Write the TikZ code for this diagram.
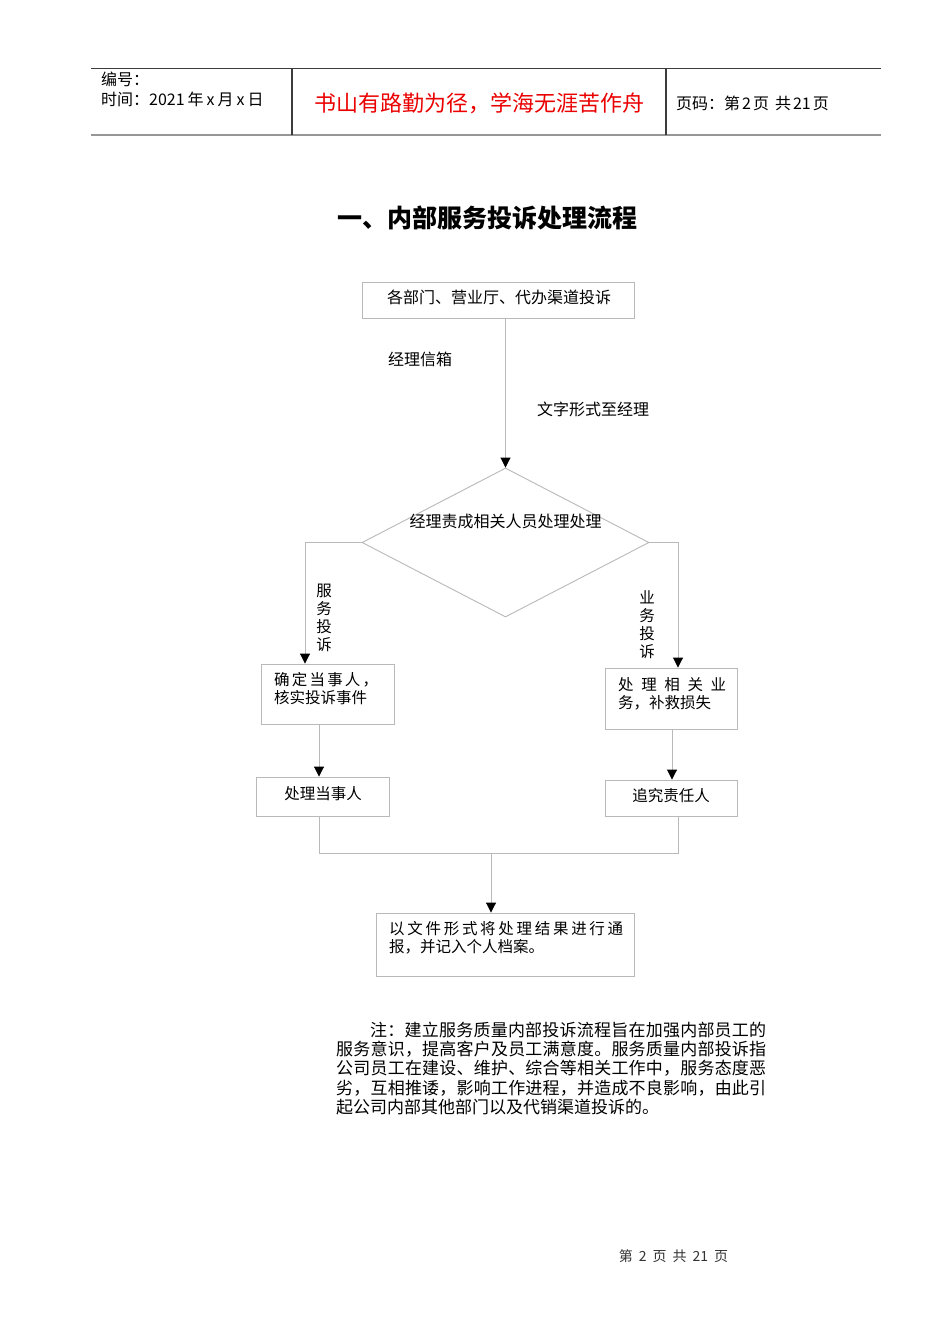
\documentclass[tikz,border=0pt]{standalone}
\usepackage{fontspec}
\setmainfont{Noto Sans CJK SC}
\usetikzlibrary{arrows.meta,shapes.geometric}
\makeatletter
\newcommand\spreadline[2]{\makebox[#1][s]{\@tfor\sp@x:=#2\do{\sp@x\hfil}\unskip}}
\makeatother
\definecolor{lgray}{RGB}{185,185,185}
\definecolor{hdrline}{RGB}{60,60,60}
\definecolor{hdrbot}{RGB}{150,150,150}
\definecolor{redtxt}{RGB}{235,0,0}
\tikzset{
  ln/.style={draw=lgray, line width=0.9pt},
  arr/.style={ln, -{Triangle[width=10pt,length=10pt,color=black,fill=black]}},
  fbox/.style={draw=lgray, line width=0.9pt, rectangle, inner sep=0pt},
  txt/.style={inner sep=0pt, font=\fontsize{15.5}{18}\selectfont},
  hdr/.style={inner sep=0pt, font=\fontsize{16}{19}\selectfont},
  note/.style={inner sep=0pt, anchor=west, font=\fontsize{17}{19}\selectfont},
  vlab/.style={inner sep=0pt, align=center, font=\fontsize{15.5}{18}\selectfont},
}
\begin{document}
\begin{tikzpicture}[x=1pt,y=-1pt]
\path[use as bounding box, fill=white] (0,0) rectangle (950,1344);

% header
\draw[draw=hdrline, line width=1pt] (91,68) coordinate (htl) -- (881,68) coordinate (htr);
\draw[draw=hdrbot, line width=2pt] (91,135) coordinate (hbl) -- (881,135) coordinate (hbr);
\draw[draw=hdrline, line width=1.1pt] (292,68) coordinate (v1t) -- (292,135) coordinate (v1b);
\draw[draw=hdrline, line width=1.1pt] (666,68) coordinate (v2t) -- (666,135) coordinate (v2b);
\node[hdr, anchor=west] (bh) at (101,79) {编号：};
\node[hdr, anchor=west] (sj) at (101,99) {时间：2021\hspace{3pt}年\hspace{3pt}x\hspace{3pt}月\hspace{3pt}x\hspace{3pt}日};
\node[inner sep=0pt, text=redtxt, font=\fontsize{22}{26}\selectfont] (motto) at (479.5,103) {书山有路勤为径，学海无涯苦作舟};
\node[hdr, anchor=west] (ym) at (676,103) {页码：第\hspace{2pt}2\hspace{2pt}页\hspace{6pt}共\hspace{2pt}21\hspace{2pt}页};

% title
\node[inner sep=0pt, font=\fontsize{25}{30}\selectfont\bfseries] (title) at (487,218) {一、内部服务投诉处理流程};

% flowchart
\node[fbox, minimum width=272pt, minimum height=36pt] (src) at (498,300) {};
\node[txt, font=\fontsize{16}{19}\selectfont] (srct) at (499,297) {各部门、营业厅、代办渠道投诉};
\node[hdr, anchor=west] (lab1) at (388,359) {经理信箱};
\node[hdr, anchor=west] (lab2) at (537,409) {文字形式至经理};

\node[draw=lgray, line width=0.9pt, diamond, inner sep=0pt, minimum width=287pt, minimum height=149pt] (dia) at (505.5,542.5) {};
\node[txt, font=\fontsize{16}{19}\selectfont] (diat) at (505.5,521) {经理责成相关人员处理处理};

\coordinate (lx) at (305,0);
\coordinate (rx) at (678,0);

\node[fbox, minimum width=133pt, minimum height=60pt] (l1) at (327.5,694) {};
\node[txt, anchor=west] (l1a) at (274,680) {\spreadline{104pt}{确定当事人，}};
\node[txt, anchor=west] (l1b) at (274,698) {核实投诉事件};

\node[fbox, minimum width=132pt, minimum height=61pt] (r1) at (671,698.5) {};
\node[txt, anchor=west] (r1a) at (618,685) {\spreadline{108pt}{处理相关业}};
\node[txt, anchor=west] (r1b) at (618,703) {务，补救损失};

\node[fbox, minimum width=133pt, minimum height=39pt] (l2) at (322.5,796.5) {};
\node[txt] (l2t) at (323,794) {处理当事人};

\node[fbox, minimum width=132pt, minimum height=36pt] (r2) at (671,798) {};
\node[txt] (r2t) at (671,796) {追究责任人};

\node[fbox, minimum width=258pt, minimum height=63pt] (fin) at (505,944.5) {};
\node[txt, anchor=west] (fina) at (389,929) {\spreadline{234pt}{以文件形式将处理结果进行通}};
\node[txt, anchor=west] (finb) at (389,947) {报，并记入个人档案。};

\node[vlab] (vl) at (324,618) {服\\务\\投\\诉};
\node[vlab] (vr) at (647,625) {业\\务\\投\\诉};

% connectors
\draw[arr] (src.south -| dia.north) -- (dia.north);
\draw[arr] (dia.west) -| (lx |- l1.north);
\draw[arr] (dia.east) -| (rx |- r1.north);
\coordinate (lx2) at (319,0);
\coordinate (rx2) at (672,0);
\draw[arr] (lx2 |- l1.south) -- (lx2 |- l2.north);
\draw[arr] (rx2 |- r1.south) -- (rx2 |- r2.north);
\coordinate (jy) at (0,853);
\coordinate (jx) at (491,0);
\draw[ln] (lx2 |- l2.south) -- (lx2 |- jy) -- (rx |- jy) -- (rx |- r2.south);
\draw[arr] (jx |- jy) -- (jx |- fin.north);

% note
\node[note] (n1) at (370,1030) {\spreadline{396pt}{注：建立服务质量内部投诉流程旨在加强内部员工的}};
\node[note] (n2) at (336,1049) {\spreadline{430pt}{服务意识，提高客户及员工满意度。服务质量内部投诉指}};
\node[note] (n3) at (336,1068) {\spreadline{430pt}{公司员工在建设、维护、综合等相关工作中，服务态度恶}};
\node[note] (n4) at (336,1088) {\spreadline{430pt}{劣，互相推诿，影响工作进程，并造成不良影响，由此引}};
\node[note] (n5) at (336,1107) {起公司内部其他部门以及代销渠道投诉的。};

% footer
\node[inner sep=0pt, text=black!80, font=\fontsize{14}{17}\selectfont] (foot) at (673.5,1256) {第\hspace{6pt}2\hspace{6pt}页\hspace{6pt}共\hspace{6pt}21\hspace{6pt}页};
\end{tikzpicture}
\end{document}
